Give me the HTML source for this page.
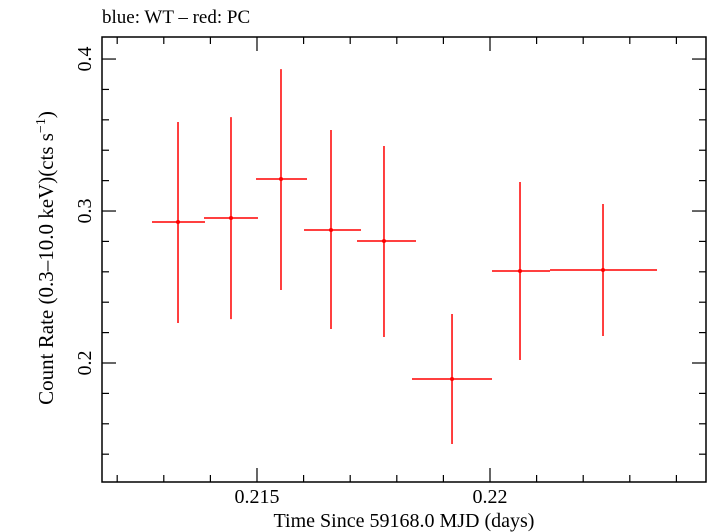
<!DOCTYPE html>
<html><head><meta charset="utf-8"><style>
html,body{margin:0;padding:0;background:#fff;}
svg{display:block;font-family:"Liberation Serif",serif;}
</style></head><body>
<svg id="chart" width="709" height="532" viewBox="0 0 709 532" xmlns="http://www.w3.org/2000/svg">
<text x="102" y="23" font-size="19" fill="#000">blue: WT – red: PC</text>
<rect x="102" y="37" width="604" height="445" fill="none" stroke="#000" stroke-width="1.5"/>
<g id="ticks"></g>
<g id="marks"></g>
<text x="404" y="527" font-size="20" text-anchor="middle">Time Since 59168.0 MJD (days)</text>
<text transform="translate(53,258) rotate(-90)" font-size="21" text-anchor="middle">Count Rate (0.3–10.0 keV)(cts s<tspan font-size="14" dy="-8">−1</tspan><tspan dy="8">)</tspan></text>
</svg>
<script>
const times=[0.213305,0.214442,0.215515,0.216588,0.217725,0.219185,0.220644,0.222425];
const timeLo=[0.212747,0.213863,0.214979,0.216009,0.217146,0.218326,0.220043,0.221288];
const timeHi=[0.213884,0.215021,0.216073,0.217232,0.218412,0.220043,0.221288,0.223584];
const rates=[0.2928,0.2954,0.3211,0.2875,0.2803,0.1895,0.2605,0.2612];
const rateHi=[0.3586,0.3618,0.3934,0.3533,0.3428,0.2322,0.3191,0.3046];
const rateLo=[0.2263,0.2289,0.2480,0.2224,0.2171,0.1467,0.2020,0.2178];
const xTickLabels=["0.215","0.22"];
const xTickValues=[0.215,0.22];
const yTickLabels=["0.2","0.3","0.4"];
const yTickValues=[0.2,0.3,0.4];

const L=102,R=706,T=37,B=482;
const xMin=0.211674,xMax=0.224635,yMin=0.1217,yMax=0.4145;
function xs(v){return L+(v-xMin)/(xMax-xMin)*(R-L);}
function ys(v){return B-(v-yMin)/(yMax-yMin)*(B-T);}
const NS="http://www.w3.org/2000/svg";
function mk(tag,attrs,parent){const e=document.createElementNS(NS,tag);for(const k in attrs)e.setAttribute(k,attrs[k]);parent.appendChild(e);return e;}
const tg=document.getElementById('ticks');
for(let i=212;i<=224;i++){
  const v=i/1000;const x=xs(v);const major=(i%5===0);const len=major?14:7;
  const a=mk('line',{x1:x,x2:x,y1:B,y2:B-len,stroke:'#000','stroke-width':1.2},tg);
  
  
  const b=mk('line',{x1:x,x2:x,y1:T,y2:T+len,stroke:'#000','stroke-width':1.2},tg);
  
  
}
for(let i=7;i<=20;i++){
  const v=i*0.02;if(v<yMin||v>yMax)continue;const y=ys(v);const major=(i%5===0);const len=major?14:7;
  const a=mk('line',{x1:L,x2:L+len,y1:y,y2:y,stroke:'#000','stroke-width':1.2},tg);
  
  
  const b=mk('line',{x1:R,x2:R-len,y1:y,y2:y,stroke:'#000','stroke-width':1.2},tg);
  
  
}
xTickValues.forEach((v,i)=>{
  const t=mk('text',{x:xs(v),y:503,'font-size':20,'text-anchor':'middle'},tg);
  t.textContent=xTickLabels[i];
  
  
});
yTickValues.forEach((v,i)=>{
  const t=mk('text',{transform:`translate(91,${ys(v)}) rotate(-90)`,'font-size':20,'text-anchor':'middle'},tg);
  t.textContent=yTickLabels[i];
  
  
});
const mg=document.getElementById('marks');
times.forEach((t,i)=>{
  const g=mk('g',{},mg);
  
  
  mk('line',{x1:xs(timeLo[i]),x2:xs(timeHi[i]),y1:ys(rates[i]),y2:ys(rates[i]),stroke:'#f00','stroke-width':1.5},g);
  mk('line',{x1:xs(t),x2:xs(t),y1:ys(rateHi[i]),y2:ys(rateLo[i]),stroke:'#f00','stroke-width':1.5},g);
  mk('circle',{cx:xs(t),cy:ys(rates[i]),r:2,fill:'#f00'},g);
});
</script>
</body></html>
